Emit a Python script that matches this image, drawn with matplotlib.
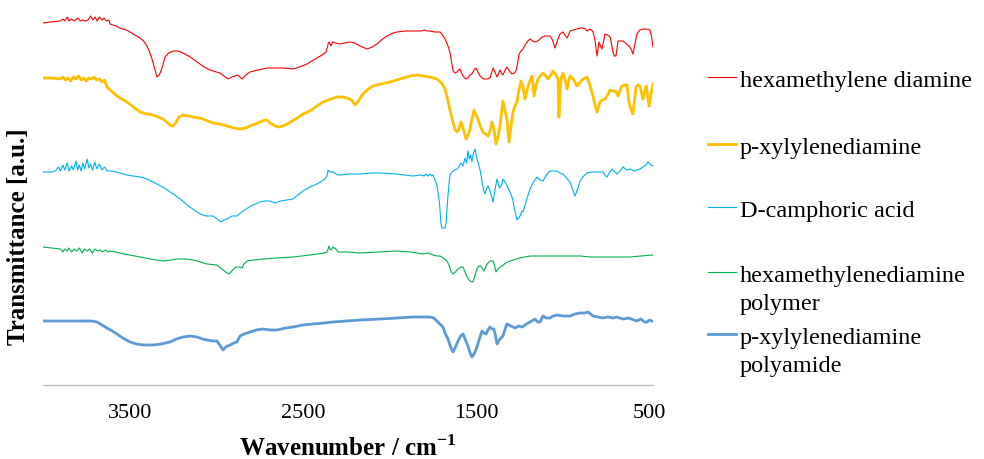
import matplotlib
matplotlib.use("Agg")
import matplotlib.pyplot as plt
from matplotlib.lines import Line2D

plt.rcParams['font.family'] = ['Liberation Serif', 'DejaVu Serif']
plt.rcParams['mathtext.fontset'] = 'custom'
plt.rcParams['mathtext.rm'] = 'Liberation Serif'
plt.rcParams['mathtext.bf'] = 'Liberation Serif:bold'

# ---- FTIR spectra (wavenumber in cm-1, transmittance in arbitrary units, stacked offsets) ----
hmda_wn = [4000, 3960, 3900, 3885, 3875, 3860, 3850, 3835, 3820, 3800, 3785, 3770, 3755,
           3740, 3725, 3712, 3700, 3688, 3675, 3660, 3648, 3635, 3620, 3613, 3580, 3556,
           3520, 3498, 3470, 3440, 3420, 3400, 3385, 3371, 3355, 3342, 3330, 3319, 3305,
           3296, 3275, 3250, 3220, 3192, 3150, 3111, 3070, 3036, 3000, 2979, 2955, 2932,
           2910, 2892, 2880, 2869, 2852, 2830, 2806, 2760, 2707, 2660, 2615, 2557, 2520,
           2477, 2440, 2419, 2390, 2367, 2360, 2355, 2350, 2344, 2338, 2330, 2310, 2286,
           2260, 2229, 2200, 2170, 2130, 2100, 2073, 2040, 2015, 1980, 1957, 1910, 1865,
           1820, 1800, 1780, 1767, 1740, 1709, 1695, 1680, 1665, 1652, 1640, 1634, 1622,
           1611, 1602, 1594, 1585, 1576, 1560, 1548, 1537, 1525, 1512, 1501, 1490, 1478,
           1458, 1438, 1421, 1412, 1403, 1392, 1380, 1372, 1363, 1355, 1346, 1335, 1323,
           1308, 1294, 1280, 1271, 1262, 1253, 1242, 1230, 1218, 1207, 1190, 1175, 1161,
           1146, 1132, 1118, 1103, 1090, 1075, 1060, 1046, 1030, 1017, 1000, 988, 976, 968,
           959, 940, 919, 900, 884, 870, 861, 852, 844, 835, 826, 815, 803, 797, 792, 783,
           775, 766, 757, 742, 728, 720, 711, 703, 694, 688, 682, 668, 653, 633, 613, 604,
           596, 585, 573, 556, 538, 518, 497, 488, 480]
hmda_t = [362, 363, 364, 366, 364, 368, 364, 366, 364, 367, 364, 365, 364,
          365, 369, 365, 368, 364, 368, 365, 367, 364, 365, 361, 359, 357,
          355, 353, 350, 347, 344, 339, 333, 326, 316, 308, 310, 314, 322,
          328, 332, 334, 334, 332, 328, 323, 318, 315, 313, 312, 309, 306,
          308, 309, 310, 309, 306, 310, 313, 315, 317, 317, 317, 316, 318,
          321, 325, 327, 330, 333, 337, 341, 343, 341, 339, 343, 342, 341,
          342, 343, 342, 339, 336, 338, 341, 346, 349, 352, 353, 354, 354,
          354, 355, 354, 354, 353, 353, 350, 346, 340, 333, 320, 314, 312,
          313, 315, 316, 312, 309, 306, 307, 310, 311, 315, 317, 313, 309,
          306, 306, 307, 312, 317, 313, 308, 311, 315, 312, 310, 314, 318,
          314, 311, 312, 314, 321, 331, 334, 336, 340, 343, 346, 344, 343,
          344, 346, 348, 349, 349, 349, 345, 337, 345, 351, 353, 350, 347, 350,
          354, 355, 356, 357, 357, 356, 354, 355, 356, 355, 353, 345, 329, 336, 343, 339,
          336, 343, 351, 350, 348, 342, 333, 329, 329, 336, 344, 344, 344, 341, 338, 335,
          331, 340, 351, 355, 356, 356, 355, 348, 338]

pxda_wn = [4000, 3950, 3900, 3885, 3870, 3855, 3840, 3825, 3810, 3795, 3780, 3765, 3750,
           3735, 3720, 3705, 3690, 3675, 3660, 3645, 3631, 3600, 3573, 3545, 3515, 3480,
           3440, 3400, 3365, 3335, 3308, 3280, 3260, 3250, 3235, 3215, 3192, 3160, 3134,
           3100, 3077, 3050, 3019, 2980, 2938, 2900, 2863, 2830, 2806, 2775, 2748, 2720,
           2707, 2690, 2661, 2640, 2615, 2580, 2534, 2500, 2459, 2420, 2384, 2340, 2304,
           2270, 2246, 2220, 2200, 2180, 2154, 2130, 2096, 2050, 1998, 1940, 1882, 1840,
           1807, 1770, 1727, 1700, 1680, 1663, 1648, 1634, 1622, 1611, 1600, 1588, 1573,
           1559, 1547, 1536, 1525, 1513, 1502, 1490, 1475, 1461, 1446, 1432, 1420, 1409,
           1397, 1386, 1375, 1363, 1354, 1346, 1335, 1323, 1317, 1311, 1300, 1288, 1276,
           1265, 1253, 1242, 1230, 1219, 1210, 1201, 1190, 1178, 1172, 1167, 1155, 1144,
           1130, 1115, 1100, 1086, 1070, 1057, 1040, 1028, 1023, 1017, 1011, 1000, 988,
           976, 968, 959, 940, 919, 900, 884, 872, 861, 845, 826, 815, 803, 795, 786, 772,
           757, 742, 728, 714, 699, 690, 682, 670, 659, 645, 630, 625, 619, 608, 596, 587,
           578, 566, 555, 546, 538, 529, 520, 512, 503, 492, 480]
pxda_t = [307, 307, 306, 308, 305, 307, 304, 308, 306, 309, 305, 307, 304,
          307, 306, 308, 305, 306, 303, 305, 298, 293, 289, 286, 283, 278,
          273, 271, 270, 268, 266, 262, 259, 259, 262, 268, 270, 269, 268,
          267, 266, 264, 262, 261, 259, 257, 256, 257, 259, 261, 263, 265,
          265, 262, 259, 258, 259, 262, 267, 271, 274, 279, 283, 286, 288,
          288, 287, 285, 280, 284, 291, 295, 299, 301, 303, 306, 309, 310,
          309, 308, 306, 302, 296, 284, 272, 263, 255, 253, 256, 263, 255,
          246, 250, 256, 266, 275, 270, 266, 258, 253, 251, 249, 254, 263,
          255, 241, 248, 259, 272, 284, 275, 266, 254, 243, 258, 273, 279,
          283, 295, 304, 298, 286, 292, 299, 304, 309, 300, 289, 299, 306,
          309, 312, 309, 306, 310, 314, 310, 306, 268, 290, 306, 312, 306,
          296, 303, 309, 306, 299, 303, 306, 307, 308, 300, 289, 280, 273, 278, 283, 285,
          286, 290, 295, 294, 294, 292, 289, 295, 299, 300, 300, 292, 283, 276, 271, 285,
          298, 300, 299, 292, 286, 293, 299, 290, 279, 290, 301]

dca_wn = [4000, 3950, 3930, 3910, 3900, 3885, 3875, 3860, 3850, 3835, 3825, 3810, 3800,
          3790, 3780, 3770, 3760, 3745, 3735, 3725, 3715, 3700, 3690, 3675, 3660, 3645,
          3630, 3600, 3556, 3515, 3480, 3440, 3400, 3342, 3300, 3267, 3240, 3209, 3180,
          3152, 3120, 3094, 3060, 3019, 2995, 2973, 2955, 2938, 2910, 2881, 2860, 2846,
          2800, 2748, 2720, 2690, 2661, 2630, 2592, 2557, 2530, 2500, 2460, 2419, 2390,
          2373, 2360, 2355, 2345, 2327, 2300, 2286, 2230, 2171, 2100, 2055, 1960, 1865,
          1820, 1800, 1790, 1780, 1767, 1758, 1750, 1740, 1727, 1712, 1704, 1698, 1680,
          1674, 1663, 1652, 1640, 1625, 1611, 1600, 1590, 1576, 1565, 1556, 1548, 1540,
          1532, 1525, 1516, 1507, 1498, 1490, 1478, 1467, 1458, 1450, 1441, 1432, 1418,
          1403, 1392, 1380, 1366, 1351, 1346, 1330, 1316, 1305, 1290, 1278, 1265, 1250,
          1236, 1230, 1210, 1190, 1170, 1149, 1132, 1115, 1095, 1075, 1055, 1034, 1017,
          1000, 980, 959, 945, 930, 915, 901, 880, 861, 830, 803, 785, 769, 757, 746, 732,
          717, 700, 688, 670, 653, 630, 610, 590, 573, 555, 538, 520, 510, 503, 492, 480]
dca_t = [213, 213, 214, 218, 214, 220, 215, 222, 214, 219, 215, 224, 215,
         220, 214, 222, 216, 226, 217, 221, 215, 223, 216, 221, 215, 218,
         214, 214, 212, 210, 209, 208, 206, 201, 197, 193, 190, 186, 182,
         178, 174, 171, 169, 169, 166, 163, 165, 166, 169, 169, 172, 174,
         179, 183, 184, 184, 182, 184, 185, 186, 190, 194, 198, 201, 204,
         206, 210, 215, 213, 213, 210, 210, 211, 211, 212, 212, 211, 209,
         210, 209, 211, 209, 211, 209, 210, 206, 200, 182, 162, 157, 157,
         162, 190, 210, 213, 215, 216, 218, 222, 219, 227, 222, 234, 226,
         230, 223, 232, 236, 228, 223, 215, 204, 195, 191, 196, 199, 193,
         183, 195, 206, 197, 201, 206, 202, 197, 193, 186, 175, 165, 168,
         174, 173, 185, 196, 203, 208, 205, 204, 210, 214, 214, 214, 212,
         211, 207, 203, 196, 189, 196, 204, 209, 212, 213, 213, 213, 213, 210, 208, 212,
         216, 213, 211, 214, 218, 215, 216, 214, 215, 216, 218, 220, 223, 222, 220, 219]

hmda_poly_wn = [4000, 3950, 3900, 3885, 3875, 3860, 3850, 3835, 3820, 3805, 3790, 3775,
                3760, 3745, 3730, 3715, 3700, 3685, 3670, 3655, 3640, 3625, 3610, 3556,
                3500, 3440, 3380, 3308, 3260, 3227, 3180, 3134, 3090, 3054, 2996, 2975,
                2961, 2945, 2927, 2910, 2895, 2881, 2865, 2852, 2840, 2823, 2780, 2731,
                2650, 2557, 2460, 2380, 2361, 2355, 2350, 2344, 2338, 2327, 2310, 2298,
                2240, 2171, 2060, 1957, 1880, 1840, 1807, 1780, 1750, 1725, 1709, 1690,
                1669, 1655, 1645, 1634, 1620, 1605, 1590, 1576, 1565, 1553, 1536, 1519,
                1508, 1496, 1484, 1473, 1464, 1455, 1446, 1438, 1420, 1403, 1395, 1386,
                1370, 1351, 1330, 1305, 1250, 1190, 1140, 1092, 1000, 901, 840, 769, 700,
                613, 550, 480]
hmda_poly_t = [138, 137, 136, 133, 136, 134, 137, 133, 136, 134, 137, 132,
               136, 134, 136, 132, 136, 134, 135, 133, 135, 133, 134, 132,
               130, 128, 126, 124, 125, 126, 126, 125, 123, 121, 120, 117,
               115, 113, 111, 114, 117, 118, 118, 117, 121, 124, 125, 126,
               127, 128, 130, 132, 133, 136, 139, 136, 135, 138, 136, 133,
               133, 132, 133, 134, 133, 132, 131, 132, 130, 129, 129, 127,
               124, 119, 113, 111, 113, 116, 118, 118, 113, 108, 104, 103,
               109, 116, 119, 119, 116, 114, 118, 121, 124, 124, 120, 113,
               117, 119, 122, 124, 127, 129, 129, 129, 129, 129, 128, 128, 128,
               128, 129, 130]

pxda_poly_wn = [4000, 3900, 3800, 3720, 3688, 3660, 3631, 3600, 3573, 3540, 3498, 3460,
                3420, 3365, 3320, 3267, 3230, 3192, 3150, 3111, 3080, 3054, 3020, 2996,
                2980, 2961, 2945, 2921, 2900, 2881, 2863, 2840, 2806, 2770, 2731, 2690,
                2650, 2600, 2557, 2500, 2442, 2380, 2327, 2250, 2171, 2050, 1957, 1860,
                1800, 1767, 1745, 1727, 1710, 1692, 1680, 1663, 1648, 1634, 1620, 1605,
                1590, 1576, 1562, 1548, 1535, 1525, 1510, 1496, 1480, 1467, 1455, 1444,
                1432, 1421, 1410, 1398, 1390, 1380, 1372, 1363, 1346, 1335, 1323, 1300,
                1276, 1255, 1236, 1210, 1190, 1161, 1145, 1132, 1115, 1095, 1075, 1055,
                1034, 1000, 959, 930, 901, 875, 855, 840, 826, 800, 769, 740, 711, 690,
                653, 620, 590, 573, 550, 530, 515, 500, 486]
pxda_poly_t = [64, 64, 64, 64, 63, 60, 57, 54, 51, 47, 43, 41,
               40, 40, 41, 43, 46, 48, 49, 48, 46, 45, 44, 44,
               40, 35, 38, 40, 42, 43, 49, 51, 53, 55, 56, 55,
               55, 57, 58, 60, 61, 62, 63, 64, 65, 66, 67, 68,
               68, 68, 67, 64, 61, 58, 52, 46, 38, 33, 38, 44,
               49, 51, 45, 39, 32, 28, 32, 38, 47, 54, 52, 51,
               55, 58, 56, 56, 50, 41, 44, 46, 49, 55, 61, 59,
               57, 59, 58, 61, 63, 66, 63, 63, 69, 67, 67, 69,
               70, 69, 69, 71, 72, 72, 73, 71, 69, 68, 67, 68, 67, 68,
               66, 67, 65, 64, 66, 63, 63, 65, 64]

series = [
    ("hexamethylene diamine", hmda_wn, hmda_t, "#FF0000", 0.8),
    ("p-xylylenediamine", pxda_wn, pxda_t, "#FFC000", 2.0),
    ("D-camphoric acid", dca_wn, dca_t, "#00B0F0", 0.8),
    ("hexamethylenediamine\npolymer", hmda_poly_wn, hmda_poly_t, "#00B050", 0.8),
    ("p-xylylenediamine\npolyamide", pxda_poly_wn, pxda_poly_t, "#5B9BD5", 2.0),
]
x_ticks = [3500, 2500, 1500, 500]

W, H = 984, 460
fig = plt.figure(figsize=(W / 100, H / 100), dpi=100)
ax = fig.add_axes([43 / W, (H - 386) / H, 610 / W, 376 / H])

for label, wn, t, color, lw in series:
    ax.plot(wn, t, color=color, lw=lw, solid_joinstyle='round')

ax.set_xlim(4000, 480)
ax.set_ylim(0, 376)
ax.set_xticks(x_ticks)
ax.set_xticklabels([str(v) for v in x_ticks], fontsize=16)
ax.set_yticks([])
ax.tick_params(axis='x', length=0, pad=13)
for side in ('top', 'right', 'left'):
    ax.spines[side].set_visible(False)
ax.spines['bottom'].set_color('#BFBFBF')
ax.spines['bottom'].set_linewidth(1.0)

ax.set_xlabel(r'Wavenumber / cm$^{\mathbf{-1}}$', fontsize=18, fontweight='bold', labelpad=9)
fig.text(19 / W, 1 - 237 / H, 'Transmittance [a.u.]', rotation=90, fontsize=18,
         fontweight='bold', ha='center', va='center')

# legend drawn beside the plot area
legend_y = [78, 145, 208, 273, 335]
for (label, wn, t, color, lw), yc in zip(series, legend_y):
    fy = 1 - yc / H
    fig.add_artist(Line2D([708 / W, 736 / W], [fy, fy], color=color, lw=lw,
                          transform=fig.transFigure))
    for i, part in enumerate(label.split('\n')):
        fig.text(740 / W, 1 - (yc + 9 + 28 * i) / H, part, fontsize=17.5,
                 ha='left', va='baseline')

fig.savefig('out.png', dpi=100)
